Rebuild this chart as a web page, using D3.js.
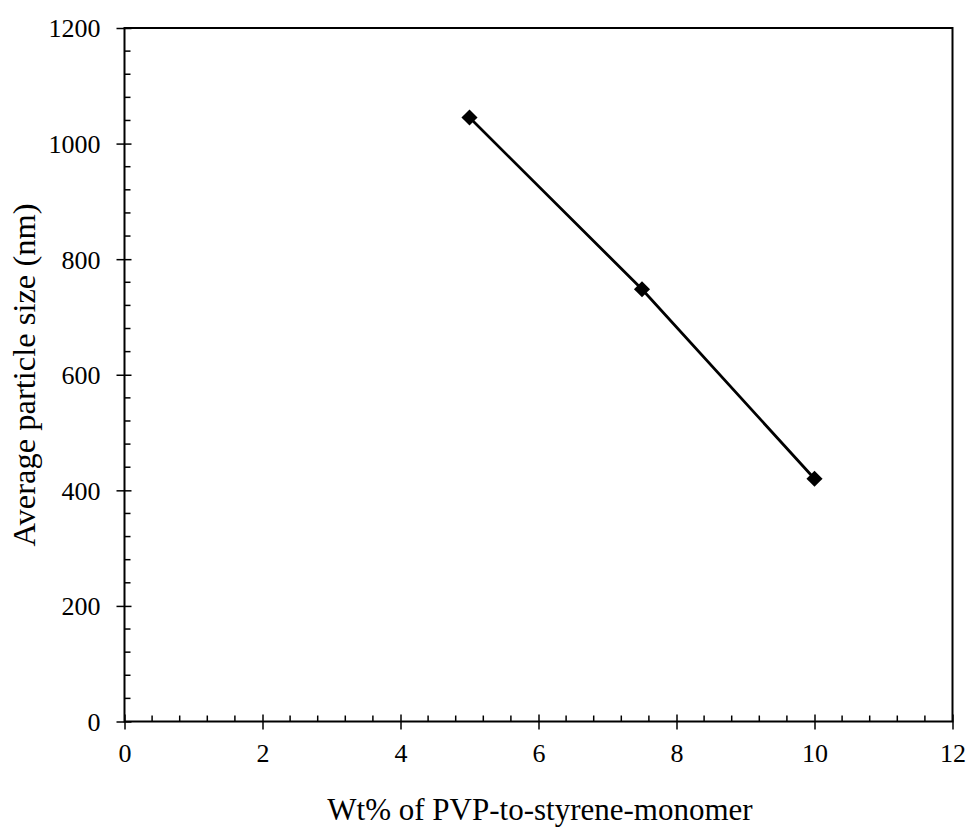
<!DOCTYPE html>
<html><head><meta charset="utf-8">
<script src="https://cdn.jsdelivr.net/npm/d3@7"></script>
<style>body{margin:0;background:#fff}svg{display:block}</style>
</head><body>
<svg id="c" width="968" height="827"></svg>
<script>
const xValues = [5, 7.5, 10];
const yValues = [1045, 748, 420];
const xTicks = [0, 2, 4, 6, 8, 10, 12];
const yTicks = [0, 200, 400, 600, 800, 1000, 1200];
const xLabel = "Wt% of PVP-to-styrene-monomer";
const yLabel = "Average particle size (nm)";

const svg = d3.select("#c");
const L = 124.5, R = 952.5, T = 28, B = 721.5;
const font = "'Liberation Serif', 'Times New Roman', serif";
const x = d3.scaleLinear().domain([0, 12]).range([L, R]);
const y = d3.scaleLinear().domain([0, 1200]).range([B, T]);

// frame
svg.append("rect").attr("x", L).attr("y", T).attr("width", R - L).attr("height", B - T)
  .attr("fill", "none").attr("stroke", "#000").attr("stroke-width", 2);

// minor ticks (inside)
const xMinor = d3.range(0, 12.001, 0.4).filter(v => Math.abs(v / 2 - Math.round(v / 2)) > 1e-6);
const yMinor = d3.range(0, 1200.001, 40).filter(v => v % 200 !== 0);
svg.append("g").selectAll("line").data(xMinor).join("line")
  .attr("x1", d => x(d)).attr("x2", d => x(d)).attr("y1", B).attr("y2", B - 6)
  .attr("stroke", "#000").attr("stroke-width", 1.5);
svg.append("g").selectAll("line").data(yMinor).join("line")
  .attr("y1", d => y(d)).attr("y2", d => y(d)).attr("x1", L).attr("x2", L + 6)
  .attr("stroke", "#000").attr("stroke-width", 1.5);

// x axis
const gx = svg.append("g").attr("transform", `translate(0,${B})`)
  .call(d3.axisBottom(x).tickValues(xTicks).tickSize(0).tickFormat(d3.format("d")));
gx.select(".domain").remove();
gx.selectAll(".tick line").attr("y1", -7).attr("y2", 8).attr("stroke-width", 1.5);
gx.selectAll(".tick text").attr("y", 40.5).attr("dy", 0)
  .attr("font-family", font).attr("font-size", 26).attr("fill", "#000");

// y axis
const gy = svg.append("g").attr("transform", `translate(${L},0)`)
  .call(d3.axisLeft(y).tickValues(yTicks).tickSize(0).tickFormat(d3.format("d")));
gy.select(".domain").remove();
gy.selectAll(".tick line").attr("x1", -8).attr("x2", 7).attr("stroke-width", 1.5);
gy.selectAll(".tick text").attr("x", -24).attr("dy", "0.34em")
  .attr("font-family", font).attr("font-size", 26).attr("fill", "#000");

// line
const data = xValues.map((v, i) => [v, yValues[i]]);
svg.append("path").datum(data)
  .attr("d", d3.line().x(d => x(d[0])).y(d => y(d[1])))
  .attr("fill", "none").attr("stroke", "#000").attr("stroke-width", 2.8);
svg.append("g").selectAll("path").data(data).join("path")
  .attr("transform", d => `translate(${x(d[0])},${y(d[1])})`)
  .attr("d", d3.symbol(d3.symbolDiamond2, 165)())
  .attr("fill", "#000");

// labels
svg.append("text").attr("x", 540).attr("y", 820).attr("text-anchor", "middle")
  .attr("font-family", font).attr("font-size", 31).attr("fill", "#000").text(xLabel);
svg.append("text").attr("transform", `translate(35,375) rotate(-90)`)
  .attr("text-anchor", "middle")
  .attr("font-family", font).attr("font-size", 32.5).attr("fill", "#000").text(yLabel);
</script>
</body></html>
